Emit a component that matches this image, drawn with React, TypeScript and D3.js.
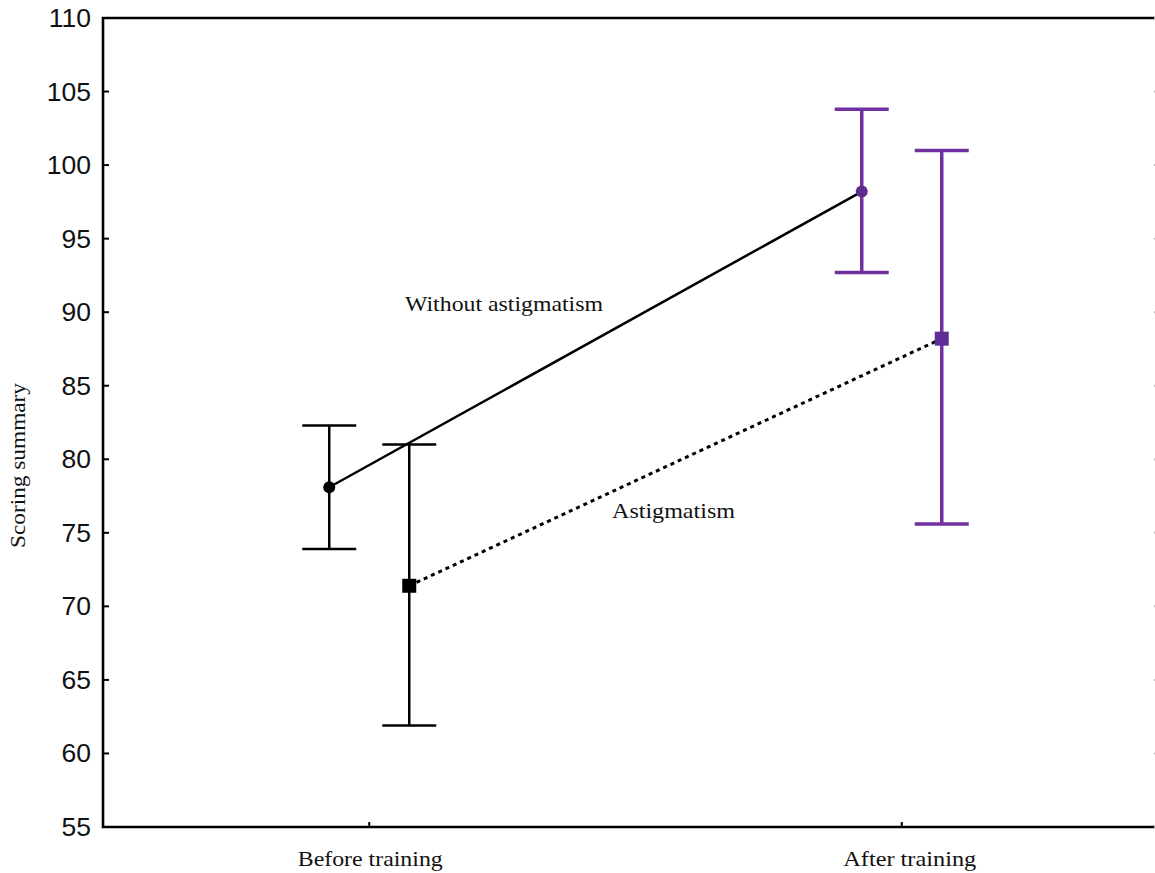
import React from "react";
import * as d3 from "d3";

const categories = ["Before training", "After training"];
const yTicks = [55, 60, 65, 70, 75, 80, 85, 90, 95, 100, 105, 110];

const withoutMean = [78.1, 98.2];
const withoutUpper = [82.3, 103.8];
const withoutLower = [73.9, 92.7];

const astigMean = [71.4, 88.2];
const astigUpper = [81.0, 101.0];
const astigLower = [61.9, 75.6];

const seriesNames = ["Without astigmatism", "Astigmatism"];

const W = 1155;
const H = 873;
const left = 103;
const top = 18;
const bottom = 827;
const rightFrame = 1160;

const purple = "#7030a0";
const catColor = ["#000000", purple];
const serif = "'Liberation Serif', 'Times New Roman', serif";

export default function App() {
  const y = d3.scaleLinear().domain([55, 110]).range([bottom, top]);
  const x = d3.scalePoint<string>().domain(categories).range([left, 1168]).padding(0.5);
  const offset = 40;
  const cap = 27;

  const line = d3
    .line<[number, number]>()
    .x((d) => d[0])
    .y((d) => d[1]);

  const series = [
    { mean: withoutMean, upper: withoutUpper, lower: withoutLower, dx: -offset, shape: "circle", dash: null },
    { mean: astigMean, upper: astigUpper, lower: astigLower, dx: offset, shape: "square", dash: "4 4" },
  ];

  const catLabel = [
    { dx: 1, len: 145 },
    { dx: 8, len: 133 },
  ];

  return (
    <svg
      width={W}
      height={H}
      style={{ position: "absolute", left: 0, top: 0, background: "#fff" }}
      xmlns="http://www.w3.org/2000/svg"
    >
      <rect x={0} y={0} width={W} height={H} fill="#fff" />
      {/* frame */}
      <path
        d={`M${rightFrame},${top}H${left}V${bottom}H${rightFrame}`}
        fill="none"
        stroke="#000"
        strokeWidth={2.6}
      />
      {/* y ticks and labels */}
      {yTicks.map((t) => (
        <g key={t}>
          <line x1={left} x2={left + 6} y1={y(t)} y2={y(t)} stroke="#000" strokeWidth={2} />
          <line x1={W - 1} x2={W} y1={y(t)} y2={y(t)} stroke="#bbb" strokeWidth={2} />
          <text
            x={91}
            y={y(t)}
            textAnchor="end"
            dominantBaseline="central"
            fontFamily="'Liberation Sans', Arial, sans-serif"
            fontSize={26.5}
            fill="#111"
          >
            {t}
          </text>
        </g>
      ))}
      {/* x ticks and labels */}
      {categories.map((c, i) => (
        <g key={c}>
          <line x1={x(c)!} x2={x(c)!} y1={bottom} y2={bottom - 5} stroke="#000" strokeWidth={2} />
          <text
            x={x(c)! + catLabel[i].dx - catLabel[i].len / 2}
            y={866}
            fontFamily={serif}
            fontSize={22}
            textLength={catLabel[i].len}
            lengthAdjust="spacingAndGlyphs"
            fill="#111"
          >
            {c}
          </text>
        </g>
      ))}
      {/* y axis title */}
      <text
        transform={`translate(25,548) rotate(-90)`}
        fontFamily={serif}
        fontSize={20}
        textLength={165}
        lengthAdjust="spacingAndGlyphs"
        fill="#111"
      >
        Scoring summary
      </text>

      {/* connecting lines */}
      {series.map((s, i) => (
        <path
          key={`l${i}`}
          d={line(categories.map((c, k) => [x(c)! + s.dx, y(s.mean[k])]))!}
          fill="none"
          stroke="#000"
          strokeWidth={s.dash ? 3 : 2.5}
          strokeDasharray={s.dash ?? undefined}
        />
      ))}

      {/* error bars and markers */}
      {series.map((s, i) =>
        categories.map((c, k) => {
          const cx = x(c)! + s.dx;
          const col = catColor[k];
          const sw = k === 0 ? 2.5 : 3.5;
          return (
            <g key={`e${i}-${k}`}>
              <line x1={cx} x2={cx} y1={y(s.upper[k])} y2={y(s.lower[k])} stroke={col} strokeWidth={sw} />
              <line x1={cx - cap} x2={cx + cap} y1={y(s.upper[k])} y2={y(s.upper[k])} stroke={col} strokeWidth={sw} />
              <line x1={cx - cap} x2={cx + cap} y1={y(s.lower[k])} y2={y(s.lower[k])} stroke={col} strokeWidth={sw} />
              {s.shape === "circle" ? (
                <circle cx={cx} cy={y(s.mean[k])} r={6} fill={k === 0 ? "#000" : "#5a2d8c"} />
              ) : (
                <rect x={cx - 7} y={y(s.mean[k]) - 7} width={14} height={14} fill={k === 0 ? "#000" : "#5f2d96"} />
              )}
            </g>
          );
        })
      )}

      {/* series annotations */}
      <text
        x={405}
        y={311}
        fontFamily={serif}
        fontSize={22}
        textLength={198}
        lengthAdjust="spacingAndGlyphs"
        fill="#111"
      >
        {seriesNames[0]}
      </text>
      <text
        x={612}
        y={518}
        fontFamily={serif}
        fontSize={22}
        textLength={123}
        lengthAdjust="spacingAndGlyphs"
        fill="#111"
      >
        {seriesNames[1]}
      </text>
    </svg>
  );
}
